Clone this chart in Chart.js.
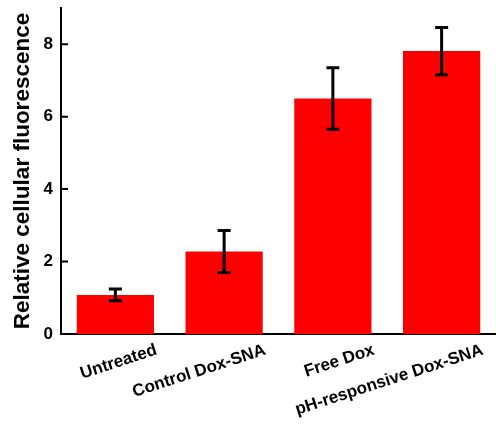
<!DOCTYPE html>
<html>
<head>
<meta charset="utf-8">
<script src="https://cdn.jsdelivr.net/npm/chart.js@4"></script>
<style>
html, body { margin: 0; padding: 0; background: #fff; }
</style>
</head>
<body>
<canvas id="fluoChart" width="496" height="427"></canvas>
<script>
const groups = ['Untreated', 'Control Dox-SNA', 'Free Dox', 'pH-responsive Dox-SNA'];
const fluorescence = [1.08, 2.28, 6.50, 7.81];
const fluorescenceErr = [0.16, 0.58, 0.85, 0.65];
const yTicks = [0, 2, 4, 6, 8];

const fontFamily = '"Liberation Sans", Arial, sans-serif';

// error bars + inward tick marks on the y axis
const errorBars = {
    id: 'errorBars',
    afterDatasetsDraw(chart) {
        const ctx = chart.ctx;
        const x = chart.scales.x;
        const y = chart.scales.y;
        ctx.save();
        ctx.strokeStyle = '#000';
        ctx.lineWidth = 3;
        ctx.beginPath();
        fluorescence.forEach(function(v, i) {
            const px = x.getPixelForValue(i);
            const top = y.getPixelForValue(v + fluorescenceErr[i]);
            const bot = y.getPixelForValue(v - fluorescenceErr[i]);
            ctx.moveTo(px, top); ctx.lineTo(px, bot);
            ctx.moveTo(px - 6.5, top); ctx.lineTo(px + 6.5, top);
            ctx.moveTo(px - 6.5, bot); ctx.lineTo(px + 6.5, bot);
        });
        ctx.stroke();
        ctx.lineWidth = 2;
        ctx.beginPath();
        yTicks.forEach(function(t) {
            const py = y.getPixelForValue(t);
            ctx.moveTo(x.left, py);
            ctx.lineTo(x.left + 7, py);
        });
        ctx.stroke();
        ctx.restore();
    }
};

const ctx = document.getElementById('fluoChart').getContext('2d');
const fluoChart = new Chart(ctx, {
    type: 'bar',
    data: {
        labels: groups,
        datasets: [{
            data: fluorescence,
            backgroundColor: '#ff0000',
            borderWidth: 0,
            barPercentage: 0.71,
            categoryPercentage: 1.0
        }]
    },
    options: {
        responsive: false,
        animation: false,
        layout: { padding: { top: 8, right: 0, left: 0, bottom: 0 } },
        plugins: {
            legend: { display: false },
            tooltip: { enabled: false }
        },
        scales: {
            x: {
                offset: true,
                afterFit: function(s) {
                    s.height = 93;
                    s.paddingLeft = 0;
                    s.paddingRight = 0;
                },
                grid: { display: false, drawTicks: false },
                border: { display: true, color: '#000', width: 2 },
                ticks: {
                    color: '#000',
                    font: { family: fontFamily, size: 17, weight: 'bold' },
                    minRotation: 18,
                    maxRotation: 18,
                    labelOffset: 41,
                    padding: 6,
                    autoSkip: false
                }
            },
            y: {
                min: 0,
                max: 9,
                afterBuildTicks: function(s) {
                    s.ticks = yTicks.map(function(v) { return { value: v }; });
                },
                afterFit: function(s) {
                    s.width = 61;
                    s.paddingTop = 0;
                    s.paddingBottom = 0;
                },
                grid: { display: false, drawTicks: false },
                border: { display: true, color: '#000', width: 2 },
                ticks: {
                    color: '#000',
                    font: { family: fontFamily, size: 17, weight: 'bold' },
                    padding: 8
                },
                title: {
                    display: true,
                    text: 'Relative cellular fluorescence',
                    color: '#000',
                    font: { family: fontFamily, size: 22.5, weight: 'bold' },
                    padding: { top: 9, bottom: 0 }
                }
            }
        }
    },
    plugins: [errorBars]
});
</script>
</body>
</html>
